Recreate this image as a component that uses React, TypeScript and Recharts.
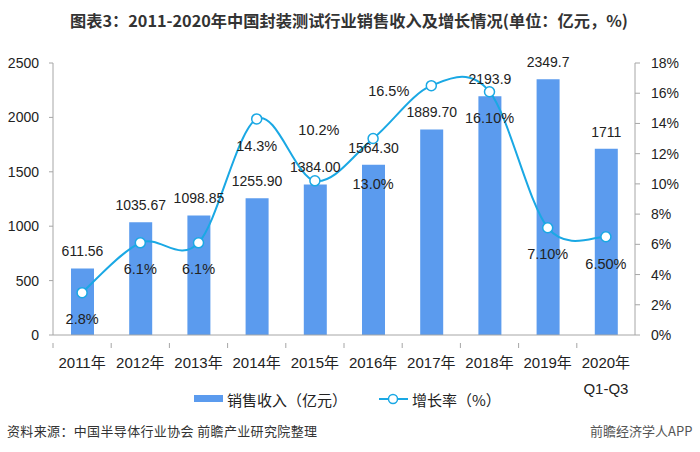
import React from 'react';
import { ComposedChart, Bar, Line, XAxis, YAxis, LabelList } from 'recharts';

// 年份 / 副标签
const years = ['2011年', '2012年', '2013年', '2014年', '2015年', '2016年', '2017年', '2018年', '2019年', '2020年'];
const yearNotes = ['', '', '', '', '', '', '', '', '', 'Q1-Q3'];

// 销售收入（亿元）
const revenue = [611.56, 1035.67, 1098.85, 1255.9, 1384.0, 1564.3, 1889.7, 2193.9, 2349.7, 1711];
const revenueText = ['611.56', '1035.67', '1098.85', '1255.90', '1384.00', '1564.30', '1889.70', '2193.9', '2349.7', '1711'];

// 增长率（%）
const growth = [2.8, 6.1, 6.1, 14.3, 10.2, 13.0, 16.5, 16.1, 7.1, 6.5];
const growthText = ['2.8%', '6.1%', '6.1%', '14.3%', '10.2%', '13.0%', '16.5%', '16.10%', '7.10%', '6.50%'];

const leftTicks = [0, 500, 1000, 1500, 2000, 2500];
const rightTicks = [0, 2, 4, 6, 8, 10, 12, 14, 16, 18];

// 折线标签相对圆点的偏移 [dx, dy]
const growthLabelShift: [number, number][] = [
  [0, 26], [0, 26], [0, 26], [0, 27], [4, -51], [0, 45], [-22, 5], [0, 26], [0, 26], [0, 27],
];

const BAR = '#5b9bee';
const LINE = '#1aa8e4';
const AXIS = '#a6a6a6';
const FONT = '"Liberation Sans", Arial, "Noto Sans CJK SC", sans-serif';
const CJK = '"Noto Sans CJK SC", "Liberation Sans", sans-serif';

const chartData = years.map((y, i) => ({
  year: y,
  note: yearNotes[i],
  revenue: revenue[i],
  growth: growth[i],
}));

// Excel 风格平滑曲线
function smoothCurve(context: any) {
  let pts: number[][] = [];
  return {
    areaStart() {},
    areaEnd() {},
    lineStart() {
      pts = [];
    },
    point(x: number, y: number) {
      pts.push([+x, +y]);
    },
    lineEnd() {
      if (!pts.length) return;
      context.moveTo(pts[0][0], pts[0][1]);
      for (let i = 0; i < pts.length - 1; i++) {
        const p0 = pts[i - 1] || pts[i];
        const p1 = pts[i];
        const p2 = pts[i + 1];
        const p3 = pts[i + 2] || pts[i + 1];
        context.bezierCurveTo(
          p1[0] + (p2[0] - p0[0]) / 6,
          p1[1] + (p2[1] - p0[1]) / 6,
          p2[0] - (p3[0] - p1[0]) / 6,
          p2[1] - (p3[1] - p1[1]) / 6,
          p2[0],
          p2[1]
        );
      }
    },
  };
}

const YearTick = (props: any) => {
  const { x, y, payload, index } = props;
  const half = payload && payload.offset ? payload.offset : 29.1;
  return (
    <g>
      <line x1={x - half} x2={x - half} y1={y} y2={y + 5} stroke={AXIS} />
      <text x={x} y={362} textAnchor="middle" dominantBaseline="central" fontSize={15} fill="#222" fontFamily={FONT}>
        {payload.value}
      </text>
      {yearNotes[index] ? (
        <text x={x} y={388} textAnchor="middle" dominantBaseline="central" fontSize={15} fill="#222" fontFamily={FONT}>
          {yearNotes[index]}
        </text>
      ) : null}
    </g>
  );
};

const RevenueLabel = (props: any) => {
  const { x, y, width, index } = props;
  return (
    <text x={x + width / 2} y={y - 17} textAnchor="middle" dominantBaseline="central" fontSize={14} fill="#222" fontFamily={FONT}>
      {revenueText[index]}
    </text>
  );
};

const GrowthLabel = (props: any) => {
  const { x, y, index } = props;
  const [dx, dy] = growthLabelShift[index];
  const anchor = dx < -10 ? 'end' : 'middle';
  return (
    <text x={x + dx} y={y + dy} textAnchor={anchor} dominantBaseline="central" fontSize={14.5} fill="#222" fontFamily={FONT}>
      {growthText[index]}
    </text>
  );
};

export default function App() {
  return (
    <div style={{ position: 'absolute', left: 0, top: 0, width: 700, height: 452, background: '#fff', overflow: 'hidden' }}>
      <svg width={700} height={452} style={{ position: 'absolute', left: 0, top: 0 }}>
        <text x={70} y={20} textLength={558} lengthAdjust="spacingAndGlyphs" dominantBaseline="central" fontSize={16} fontWeight="bold" fill="#333" fontFamily={CJK}>
          图表3：2011-2020年中国封装测试行业销售收入及增长情况(单位：亿元，%)
        </text>
        {/* 图例 */}
        <rect x={194} y={395} width={29} height={7} fill={BAR} />
        <text x={227} y={399} dominantBaseline="central" fontSize={15} fill="#222" fontFamily={CJK}>
          销售收入（亿元）
        </text>
        <line x1={379} x2={408} y1={399} y2={399} stroke={LINE} strokeWidth={2} />
        <circle cx={393} cy={399} r={4.5} fill="#fff" stroke={LINE} strokeWidth={1.5} />
        <text x={412} y={399} dominantBaseline="central" fontSize={15} fill="#222" fontFamily={CJK}>
          增长率（%）
        </text>
        {/* 来源 */}
        <text x={7} y={430} textLength={310} lengthAdjust="spacing" dominantBaseline="central" fontSize={13} fill="#333" fontFamily={CJK}>
          资料来源：中国半导体行业协会 前瞻产业研究院整理
        </text>
        <text x={590} y={430} dominantBaseline="central" fontSize={13} fill="#555" fontFamily={CJK}>
          前瞻经济学人APP
        </text>
      </svg>
      <div style={{ position: 'absolute', left: 0, top: 0 }}>
        <ComposedChart width={700} height={400} data={chartData} margin={{ top: 63, right: 0, bottom: 0, left: 0 }}>
          <XAxis
            dataKey="year"
            xAxisId="x"
            height={65}
            axisLine={{ stroke: AXIS }}
            tickLine={false}
            tick={<YearTick />}
            interval={0}
          />
          <YAxis
            yAxisId="left"
            width={53}
            domain={[0, 2500]}
            ticks={leftTicks}
            axisLine={{ stroke: AXIS }}
            tickLine={{ stroke: AXIS }}
            tickSize={4}
            tickMargin={10}
            tick={{ fontSize: 14, fill: '#222', fontFamily: FONT }}
          />
          <YAxis
            yAxisId="right"
            orientation="right"
            width={65}
            domain={[0, 18]}
            ticks={rightTicks}
            tickFormatter={(v: number) => `${v}%`}
            axisLine={{ stroke: AXIS }}
            tickLine={{ stroke: AXIS }}
            tickSize={5}
            tickMargin={11}
            tick={{ fontSize: 14, fill: '#222', fontFamily: FONT }}
          />
          <Bar dataKey="revenue" xAxisId="x" yAxisId="left" fill={BAR} barSize={23} isAnimationActive={false}>
            <LabelList dataKey="revenue" content={<RevenueLabel />} />
          </Bar>
          <Line
            dataKey="growth"
            xAxisId="x"
            yAxisId="right"
            type={smoothCurve as any}
            stroke={LINE}
            strokeWidth={2}
            dot={{ r: 5, fill: '#fff', stroke: LINE, strokeWidth: 1.5 }}
            isAnimationActive={false}
          >
            <LabelList dataKey="growth" content={<GrowthLabel />} />
          </Line>
        </ComposedChart>
      </div>
    </div>
  );
}
